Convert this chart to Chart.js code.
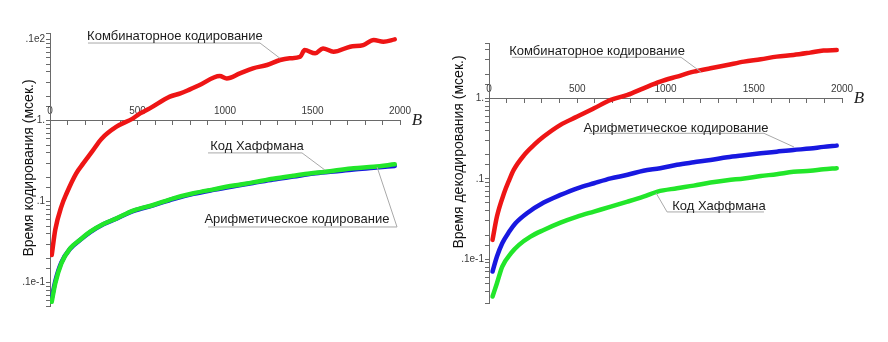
<!DOCTYPE html>
<html>
<head>
<meta charset="utf-8">
<script src="https://cdn.jsdelivr.net/npm/chart.js@4/dist/chart.umd.min.js"></script>
<style>
  body { margin: 0; background: #fff; width: 888px; height: 342px; position: relative; overflow: hidden; }
  .panel { position: absolute; top: 0; width: 444px; height: 342px; }
</style>
</head>
<body>
<div class="panel" style="left:0"><canvas id="encChart" width="444" height="342"></canvas></div>
<div class="panel" style="left:444px"><canvas id="decChart" width="444" height="342"></canvas></div>
<script>
// --- кодирование (левый график) ---
const encCombB = [10, 30, 65, 95, 150, 190, 240, 295, 380, 475, 515, 570, 685, 745, 800, 855, 970, 1010, 1085, 1160, 1240, 1315, 1370, 1430, 1455, 1515, 1560, 1620, 1715, 1790, 1850, 1905, 1970];
const encCombT = [0.022, 0.045, 0.087, 0.127, 0.224, 0.297, 0.414, 0.6, 0.843, 1.07, 1.23, 1.42, 1.98, 2.17, 2.44, 2.76, 3.56, 3.33, 3.84, 4.43, 4.87, 5.61, 5.89, 6.17, 7.45, 6.78, 7.81, 7.11, 8.2, 8.59, 9.9, 9.45, 10.1];
const encHuffB = [10, 30, 65, 115, 170, 230, 305, 380, 475, 590, 705, 820, 935, 1050, 1160, 1275, 1390, 1505, 1620, 1735, 1850, 1970];
const encHuffT = [0.0058, 0.0098, 0.0173, 0.0265, 0.0336, 0.0426, 0.053, 0.0622, 0.0774, 0.091, 0.11, 0.127, 0.142, 0.158, 0.173, 0.192, 0.209, 0.226, 0.241, 0.258, 0.27, 0.289];
const encArithB = [10, 30, 65, 115, 170, 230, 305, 380, 475, 590, 705, 820, 935, 1050, 1160, 1275, 1390, 1505, 1620, 1735, 1850, 1970];
const encArithT = [0.0064, 0.0104, 0.0178, 0.0262, 0.0333, 0.042, 0.0525, 0.0618, 0.0765, 0.09, 0.108, 0.125, 0.14, 0.155, 0.17, 0.188, 0.204, 0.222, 0.235, 0.25, 0.262, 0.276];

// --- декодирование (правый график) ---
const decCombB = [20, 45, 85, 115, 140, 200, 255, 310, 405, 500, 595, 690, 785, 875, 970, 1065, 1160, 1255, 1350, 1445, 1540, 1630, 1725, 1820, 1895, 1970];
const decCombT = [0.0174, 0.034, 0.066, 0.097, 0.129, 0.198, 0.263, 0.334, 0.467, 0.592, 0.751, 0.953, 1.1, 1.33, 1.61, 1.86, 2.14, 2.36, 2.59, 2.85, 3.05, 3.29, 3.45, 3.69, 3.91, 3.98];
const decArithB = [20, 45, 75, 115, 150, 215, 310, 405, 500, 595, 690, 785, 875, 970, 1065, 1160, 1255, 1350, 1445, 1540, 1630, 1725, 1820, 1895, 1970];
const decArithT = [0.00703, 0.0108, 0.0158, 0.0221, 0.028, 0.0373, 0.0506, 0.063, 0.0762, 0.088, 0.101, 0.112, 0.126, 0.135, 0.149, 0.16, 0.171, 0.185, 0.196, 0.207, 0.217, 0.228, 0.237, 0.249, 0.258];
const decHuffB = [20, 45, 75, 125, 170, 235, 310, 405, 500, 595, 690, 785, 875, 955, 1065, 1160, 1255, 1350, 1445, 1540, 1630, 1725, 1820, 1895, 1970];
const decHuffT = [0.00344, 0.00503, 0.0081, 0.0119, 0.0151, 0.0191, 0.0231, 0.0285, 0.0339, 0.0391, 0.0451, 0.052, 0.06, 0.0693, 0.0762, 0.0822, 0.0896, 0.0958, 0.101, 0.108, 0.114, 0.122, 0.126, 0.131, 0.135];

// подписи делений в стиле Maple
const decadeLabels = { '-2': '.1e-1', '-1': '.1', '0': '1.', '1': '.1e2' };
const xLabelStep = 500;

const RED = '#ee1515', BLUE = '#1818e0', GREEN = '#22e62a';

function pts(bs, ts) {
  return bs.map((b, i) => ({ x: b, y: ts[i] }));
}

// выноски с подчёркиванием, буква B у оси и заголовок оси Y
function makeCallouts(notes, title) {
  return {
    id: 'callouts',
    afterDatasetsDraw(chart) {
      const { ctx } = chart;
      const x = chart.scales.x, y = chart.scales.y;
      ctx.save();
      notes.forEach(n => {
        const ux1 = x.getPixelForValue(n.under[0]);
        const ux2 = x.getPixelForValue(n.under[1]);
        const uy = y.getPixelForValue(n.under[2]);
        const sx = n.side === 'left' ? ux1 : ux2;
        ctx.strokeStyle = '#a9a9a9';
        ctx.lineWidth = 1;
        ctx.beginPath();
        ctx.moveTo(ux1, uy);
        ctx.lineTo(ux2, uy);
        ctx.moveTo(sx, uy);
        ctx.lineTo(x.getPixelForValue(n.leader[0]), y.getPixelForValue(n.leader[1]));
        ctx.stroke();
        ctx.fillStyle = '#1c1c1c';
        ctx.font = '13px "Liberation Sans", Arial, sans-serif';
        ctx.textAlign = 'center';
        ctx.textBaseline = 'middle';
        ctx.fillText(n.text, x.getPixelForValue(n.at[0]), y.getPixelForValue(n.at[1]));
      });

      ctx.fillStyle = '#222';
      ctx.font = 'italic 17px "Liberation Serif", "Times New Roman", serif';
      ctx.textAlign = 'center';
      ctx.textBaseline = 'middle';
      ctx.fillText('B', x.right + 17, y.getPixelForValue(1));

      ctx.translate(title.x, title.y);
      ctx.rotate(-Math.PI / 2);
      ctx.font = title.size + 'px "Liberation Sans", Arial, sans-serif';
      ctx.fillStyle = '#111';
      ctx.fillText(title.text, 0, 0);
      ctx.restore();
    }
  };
}

function buildChart(id, cfg) {
  const axisColor = '#6a6a6a';
  const tickFont = { size: 10, family: '"Liberation Sans", Arial, sans-serif' };
  return new Chart(document.getElementById(id), {
    type: 'line',
    data: { datasets: cfg.datasets },
    options: {
      responsive: false,
      animation: false,
      events: [],
      layout: { padding: cfg.padding },
      elements: {
        point: { radius: 0 },
        line: { borderWidth: 4.5, cubicInterpolationMode: 'monotone', borderCapStyle: 'round' }
      },
      plugins: { legend: { display: false }, tooltip: { enabled: false } },
      scales: {
        x: {
          type: 'linear',
          min: 0,
          max: 2000,
          position: { y: 1 },
          border: { display: true, color: axisColor, width: 1 },
          grid: { display: true, drawOnChartArea: false, drawTicks: true, tickLength: 4, color: axisColor },
          ticks: {
            stepSize: 100,
            autoSkip: false,
            maxRotation: 0,
            padding: -19,
            color: '#3a3a3a',
            font: tickFont,
            callback: v => (v % xLabelStep === 0 ? String(v) : '')
          }
        },
        y: {
          type: 'logarithmic',
          min: cfg.yMin,
          max: cfg.yMax,
          position: 'left',
          afterFit: s => { s.width = cfg.axisLeft; },
          border: { display: true, color: axisColor, width: 1 },
          grid: { display: true, drawOnChartArea: false, drawTicks: true, tickLength: 4, color: axisColor },
          ticks: {
            autoSkip: false,
            padding: 1,
            color: '#3a3a3a',
            font: tickFont,
            callback: v => {
              const e = Math.log10(v);
              const r = Math.round(e);
              return Math.abs(e - r) < 1e-6 && decadeLabels[r] ? decadeLabels[r] : '';
            }
          }
        }
      }
    },
    plugins: [makeCallouts(cfg.notes, cfg.title)]
  });
}

buildChart('encChart', {
  axisLeft: 50,
  padding: { top: 33, right: 44, bottom: 36, left: 0 },
  yMin: 0.00515,
  yMax: 12.1,
  datasets: [
    { label: 'Комбинаторное кодирование', data: pts(encCombB, encCombT), borderColor: RED },
    { label: 'Код Хаффмана', data: pts(encHuffB, encHuffT), borderColor: GREEN },
    { label: 'Арифметическое кодирование', data: pts(encArithB, encArithT), borderColor: BLUE }
  ],
  notes: [
    { text: 'Комбинаторное кодирование', at: [714, 11.1], under: [217, 1200, 9.1], side: 'right', leader: [1314, 5.9] },
    { text: 'Код Хаффмана', at: [1183, 0.487], under: [903, 1440, 0.40], side: 'right', leader: [1571, 0.246] },
    { text: 'Арифметическое кодирование', at: [1411, 0.0611], under: [903, 1983, 0.0487], side: 'right', leader: [1869, 0.268] }
  ],
  title: { text: 'Время кодирования (мсек.)', x: 29, y: 168, size: 14 }
});

buildChart('decChart', {
  axisLeft: 45,
  padding: { top: 43, right: 46, bottom: 39, left: 0 },
  yMin: 0.00286,
  yMax: 4.86,
  datasets: [
    { label: 'Комбинаторное кодирование', data: pts(decCombB, decCombT), borderColor: RED },
    { label: 'Арифметическое кодирование', data: pts(decArithB, decArithT), borderColor: BLUE },
    { label: 'Код Хаффмана', data: pts(decHuffB, decHuffT), borderColor: GREEN }
  ],
  notes: [
    { text: 'Комбинаторное кодирование', at: [612, 3.79], under: [130, 1088, 3.23], side: 'right', leader: [1201, 2.12] },
    { text: 'Арифметическое кодирование', at: [1060, 0.428], under: [567, 1558, 0.367], side: 'right', leader: [1728, 0.248] },
    { text: 'Код Хаффмана', at: [1303, 0.0459], under: [1009, 1558, 0.0387], side: 'left', leader: [946, 0.0668] }
  ],
  title: { text: 'Время декодирования (мсек.)', x: 15, y: 152, size: 14 }
});
</script>
</body>
</html>
